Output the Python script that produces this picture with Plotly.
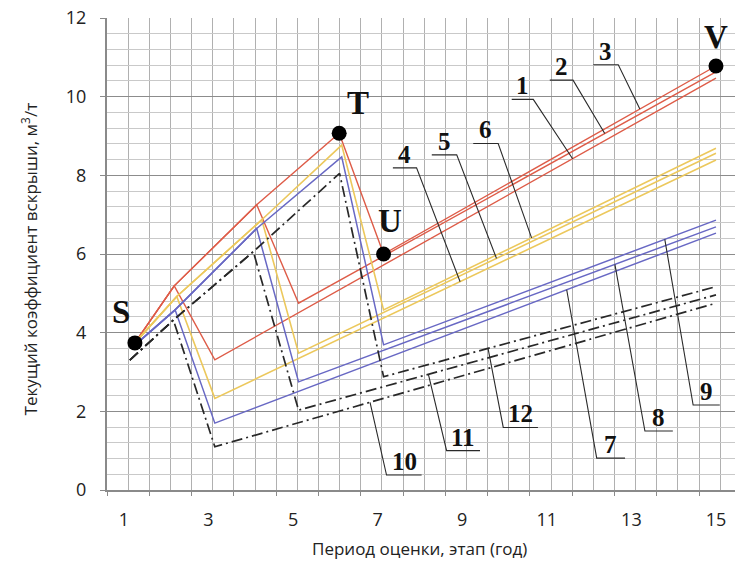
import numpy as np
import plotly.graph_objects as go

# ---------------- data ----------------
line_labels = [str(i) for i in range(1, 13)]
x_tick_vals = [1, 3, 5, 7, 9, 11, 13, 15]
x_tick_text = ["1", "3", "5", "7", "9", "11", "13", "15"]
y_tick_vals = [0, 2, 4, 6, 8, 10, 12]

# rising (shared) path of each group
red_rise_x = [1.26, 2.19, 4.14, 6.09]
red_rise_y = [3.74, 5.19, 7.25, 9.07]
yellow_rise_x = [1.26, 2.25, 4.26, 6.15]
yellow_rise_y = [3.74, 4.92, 6.87, 8.77]
blue_rise_x = [1.30, 2.21, 4.14, 6.15]
blue_rise_y = [3.72, 4.58, 6.65, 8.47]
black_rise_x = [1.14, 2.17, 4.06, 6.10]
black_rise_y = [3.30, 4.32, 6.06, 8.05]

# troughs after the drop and end values at the last stage
trough_x = [3.15, 5.13, 7.14]
red_trough_y = [3.31, 4.75, 6.00]
yellow_trough_y = [2.33, 3.48, 4.58]
blue_trough_y = [1.70, 2.75, 3.69]
black_trough_y = [1.10, 2.03, 2.88]
end_x = 15.0
red_end_y = [10.47, 10.63, 10.78]
yellow_end_y = [8.39, 8.56, 8.69]
blue_end_y = [6.53, 6.69, 6.86]
black_end_y = [4.75, 4.96, 5.17]

point_names = ["S", "T", "U", "V"]

# ---------------- styles ----------------
group_style = [
    dict(color="rgb(222,92,72)", width=1.4, dash="solid"),
    dict(color="rgb(236,200,92)", width=1.6, dash="solid"),
    dict(color="rgb(104,104,196)", width=1.5, dash="solid"),
    dict(color="rgb(40,40,40)", width=1.7, dash="11px,4px,2px,4px"),
]
groups = [
    (red_rise_x, red_rise_y, red_trough_y, red_end_y),
    (yellow_rise_x, yellow_rise_y, yellow_trough_y, yellow_end_y),
    (blue_rise_x, blue_rise_y, blue_trough_y, blue_end_y),
    (black_rise_x, black_rise_y, black_trough_y, black_end_y),
]

fig = go.Figure()

series = []
for gi, (rx, ry, ty, ey) in enumerate(groups):
    for k in range(3):
        xs = rx[:k + 2] + [trough_x[k], end_x]
        ys = ry[:k + 2] + [ty[k], ey[k]]
        series.append((xs, ys))
        fig.add_trace(go.Scatter(x=xs, y=ys, mode="lines",
                                 line=group_style[gi], showlegend=False,
                                 name=line_labels[gi * 3 + k],
                                 hoverinfo="skip"))

# key points S, T, U, V
pts_x = [red_rise_x[0], red_rise_x[3], trough_x[2], end_x]
pts_y = [red_rise_y[0], red_rise_y[3], red_trough_y[2], red_end_y[2]]
fig.add_trace(go.Scatter(x=pts_x, y=pts_y, mode="markers",
                         marker=dict(color="black", size=15),
                         showlegend=False, hoverinfo="skip"))

# letter labels (positions of text)
letter_pos = [(0.93, 4.52), (6.53, 9.83), (7.29, 6.83), (15.01, 11.52)]
for name, (lx, ly) in zip(point_names, letter_pos):
    fig.add_annotation(x=lx, y=ly, text="<b>%s</b>" % name, showarrow=False,
                       font=dict(family="Liberation Serif", size=33, color="#111"))

# numbered labels with underline and leader line
# (underline x0, x1, y, leader target x on the series, leader from right end?)
label_layout = [
    (10.17, 10.68, 9.93, 11.61, True),
    (11.07, 11.62, 10.42, 12.37, True),
    (12.10, 12.69, 10.81, 13.20, True),
    (7.36, 7.92, 8.19, 8.95, True),
    (8.28, 8.87, 8.52, 9.81, True),
    (9.26, 9.85, 8.81, 10.64, True),
    (12.18, 12.85, 0.81, 11.47, False),
    (13.32, 13.98, 1.50, 12.61, False),
    (14.46, 15.09, 2.16, 13.79, False),
    (7.21, 8.04, 0.38, 6.82, False),
    (8.63, 9.42, 1.00, 8.20, False),
    (9.97, 10.79, 1.59, 9.61, False),
]
for i, (u0, u1, uy, tx, right) in enumerate(label_layout):
    xs, ys = series[i]
    ty = float(np.interp(tx, xs[-2:], ys[-2:]))
    if right:
        lx, ly = [u0, u1, tx], [uy, uy, ty]
    else:
        lx, ly = [u1, u0, tx], [uy, uy, ty]
    fig.add_trace(go.Scatter(x=lx, y=ly, mode="lines",
                             line=dict(color="#2a2a2a", width=1.1),
                             showlegend=False, hoverinfo="skip"))
    fig.add_annotation(x=(u0 + u1) / 2, y=uy, yanchor="bottom", yshift=-2,
                       text="<b>%s</b>" % line_labels[i], showarrow=False,
                       font=dict(family="Liberation Serif", size=25, color="#111"))

# axis titles
fig.add_annotation(xref="paper", yref="paper", x=-0.123, y=0.49,
                   text="Текущий коэффициент вскрыши, м<sup>3</sup>/т",
                   textangle=-90, showarrow=False, xanchor="center", yanchor="middle",
                   font=dict(family="Open Sans", size=17, color="#222"))
fig.add_annotation(xref="paper", yref="paper", x=0.498, y=-0.095,
                   text="Период оценки, этап (год)", showarrow=False,
                   xanchor="center", yanchor="top",
                   font=dict(family="Open Sans", size=17, color="#222"))

x_range = [0.6, 15.45]
fig.update_layout(
    width=735, height=562,
    margin=dict(l=107, r=0, t=18, b=72),
    plot_bgcolor="white", paper_bgcolor="white",
    xaxis=dict(range=x_range, tickvals=x_tick_vals, ticktext=x_tick_text,
               showgrid=False, zeroline=False, ticks="",
               ticklabelstandoff=12,
               tickfont=dict(family="Open Sans", size=18, color="#222"),
               showline=True, linecolor="#8a8a8a", linewidth=2,
               minor=dict(tick0=0.6, dtick=0.5, showgrid=True,
                          gridcolor="#b0b0b0", gridwidth=1, ticks="")),
    xaxis2=dict(range=x_range, overlaying="x", anchor="y", side="bottom",
                tick0=0.6, dtick=1, ticks="outside", ticklen=5,
                tickcolor="#8a8a8a", showticklabels=False, showgrid=False,
                zeroline=False, showline=False),
    yaxis=dict(range=[0, 12], tickvals=y_tick_vals, showgrid=True,
               gridcolor="#8c8c8c", gridwidth=1.3, zeroline=False,
               ticks="outside", ticklen=5, tickcolor="#8a8a8a",
               ticklabelstandoff=10,
               tickfont=dict(family="Open Sans", size=18, color="#222"),
               showline=True, linecolor="#8a8a8a", linewidth=2,
               minor=dict(dtick=0.4, showgrid=True, gridcolor="#c9c9c9",
                          gridwidth=1, ticks="")),
)
# invisible trace so xaxis2 is drawn
fig.add_trace(go.Scatter(x=[None], y=[None], xaxis="x2", showlegend=False,
                         hoverinfo="skip"))

fig.write_html("out.html",
               config={"displayModeBar": False},
               post_script="document.body.style.margin='0';document.body.style.padding='0';")
